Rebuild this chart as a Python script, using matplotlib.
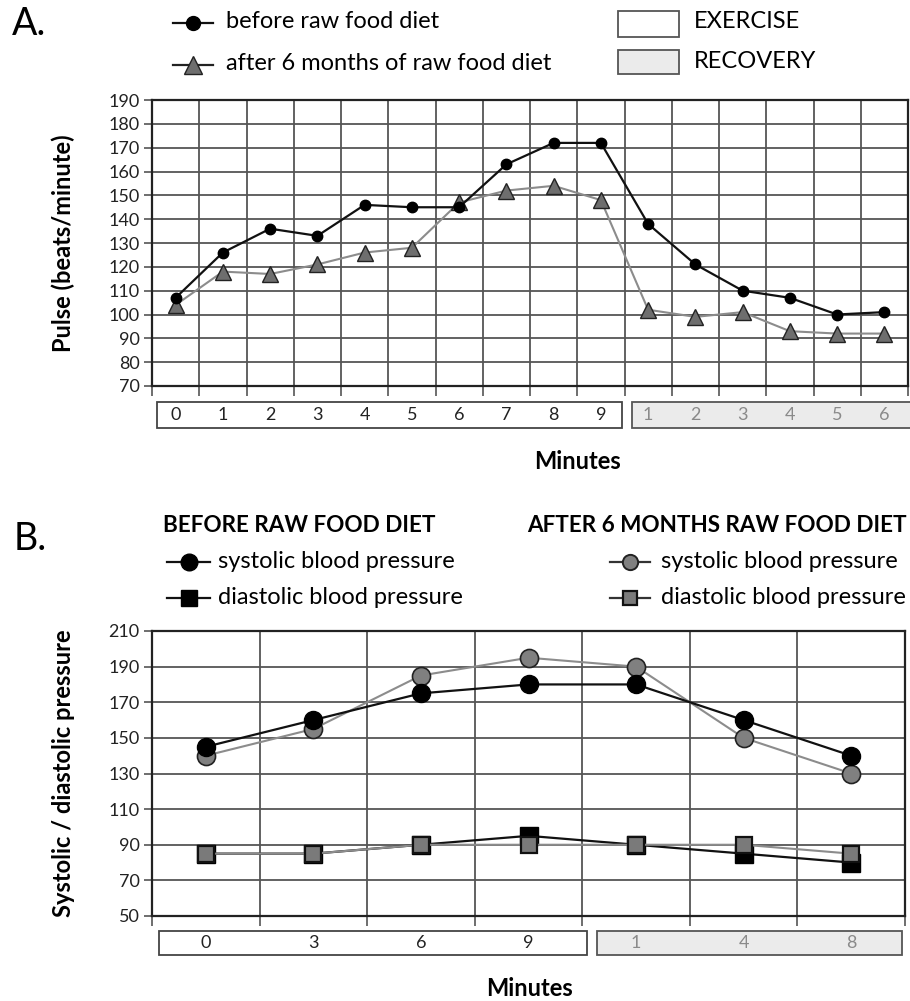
import numpy as np
import matplotlib.pyplot as plt
from matplotlib.lines import Line2D
from matplotlib.patches import Rectangle
import matplotlib.transforms as mtransforms

plt.rcParams['font.family'] = ['Lato', 'DejaVu Sans']

# ---------- data ----------
# panel A: pulse
a_labels = ['0', '1', '2', '3', '4', '5', '6', '7', '8', '9', '1', '2', '3', '4', '5', '6']
a_n_exercise = 10
pulse_before = [107, 126, 136, 133, 146, 145, 145, 163, 172, 172, 138, 121, 110, 107, 100, 101]
pulse_after = [104, 118, 117, 121, 126, 128, 147, 152, 154, 148, 102, 99, 101, 93, 92, 92]

# panel B: blood pressure
b_labels = ['0', '3', '6', '9', '1', '4', '8']
b_n_exercise = 4
sys_before = [145, 160, 175, 180, 180, 160, 140]
sys_after = [140, 155, 185, 195, 190, 150, 130]
dia_before = [85, 85, 90, 95, 90, 85, 80]
dia_after = [85, 85, 90, 90, 90, 90, 85]

W, H = 910, 1001
fig = plt.figure(figsize=(W / 100, H / 100), dpi=100)


def fx(px):
    return px / W


def fy(py):
    return 1 - py / H


GRID = '#555555'
LAB = 17     # bold axis labels
LEG = 17     # legend text
TICK = 13


def style_axes(ax, n, ymin, ymax, ystep):
    ax.set_xlim(-0.5, n - 0.5)
    ax.set_ylim(ymin, ymax)
    ax.set_xticks(np.arange(-0.5, n, 1.0))
    ax.set_xticklabels([])
    ax.set_yticks(np.arange(ymin, ymax + 1, ystep))
    ax.grid(True, color=GRID, lw=1.3)
    ax.set_axisbelow(True)
    ax.tick_params(axis='x', length=7, width=1.2, color=GRID)
    ax.tick_params(axis='y', length=6, width=1.2, color=GRID, labelsize=TICK, pad=3,
                   labelcolor='#222222')
    for s in ax.spines.values():
        s.set_color('#222222')
        s.set_linewidth(1.6)


def category_boxes(ax, labels, n_ex, ex_span, rec_span, ybot, ytop):
    trans = mtransforms.blended_transform_factory(ax.transData, ax.transAxes)
    ax.add_patch(Rectangle((ex_span[0], ybot), ex_span[1] - ex_span[0], ytop - ybot,
                           transform=trans, facecolor='white', edgecolor='#444444',
                           lw=1.3, clip_on=False))
    ax.add_patch(Rectangle((rec_span[0], ybot), rec_span[1] - rec_span[0], ytop - ybot,
                           transform=trans, facecolor='#ebebeb', edgecolor='#555555',
                           lw=1.3, clip_on=False))
    for i, lab in enumerate(labels):
        ax.text(i, (ybot + ytop) / 2, lab, transform=trans, ha='center', va='center',
                fontsize=TICK, color='#222222' if i < n_ex else '#8a8a8a')


# ---------- panel A ----------
axA = fig.add_axes([fx(152), fy(386), fx(756), 286 / H])
style_axes(axA, len(a_labels), 70, 190, 10)
xa = np.arange(len(a_labels))
axA.plot(xa, pulse_after, '-', color='#8c8c8c', lw=1.5, marker='^', ms=11.5,
         mfc='#6e6e6e', mec='#222222', mew=1.0, zorder=3)
axA.plot(xa, pulse_before, '-', color='#111111', lw=1.6, marker='o', ms=7.5,
         mfc='black', mec='black', zorder=4)
axA.set_ylabel('Pulse (beats/minute)', fontsize=LAB, fontweight='bold')
axA.yaxis.set_label_coords(-0.102, 0.5)
category_boxes(axA, a_labels, a_n_exercise, (-0.39, 9.45), (9.66, 16.3), -0.147, -0.056)
fig.text(fx(577), fy(461), 'Minutes', ha='center', va='center', fontsize=LAB, fontweight='bold')

# ---------- panel B ----------
axB = fig.add_axes([fx(152), fy(916), fx(753), 285 / H])
style_axes(axB, len(b_labels), 50, 210, 20)
xb = np.arange(len(b_labels))
axB.plot(xb, sys_after, '-', color='#8c8c8c', lw=1.5, marker='o', ms=13,
         mfc='#808080', mec='#222222', mew=1.2, zorder=3)
axB.plot(xb, sys_before, '-', color='#111111', lw=1.6, marker='o', ms=13,
         mfc='black', mec='black', zorder=4)
axB.plot(xb, dia_before, '-', color='#111111', lw=1.6, marker='s', ms=12.5,
         mfc='black', mec='black', zorder=3)
axB.plot(xb, dia_after, '-', color='#8c8c8c', lw=1.5, marker='s', ms=11.5,
         mfc='#7a7a7a', mec='#111111', mew=1.6, zorder=4)
axB.set_ylabel('Systolic / diastolic pressure', fontsize=LAB, fontweight='bold')
axB.yaxis.set_label_coords(-0.102, 0.5)
category_boxes(axB, b_labels, b_n_exercise, (-0.435, 3.545), (3.637, 6.472), -0.137, -0.053)
fig.text(fx(530), fy(988), 'Minutes', ha='center', va='center', fontsize=LAB, fontweight='bold')


# ---------- legends (drawn in figure pixels) ----------
def leg_line(x0, x1, y, color, marker, ms, mfc, mec, mew=1.0):
    fig.add_artist(Line2D([fx(x0), fx(x1)], [fy(y), fy(y)], color=color, lw=1.6,
                          transform=fig.transFigure))
    fig.add_artist(Line2D([fx((x0 + x1) / 2)], [fy(y)], marker=marker, ms=ms, mfc=mfc,
                          mec=mec, mew=mew, ls='none', transform=fig.transFigure))


fig.text(fx(12), fy(24), 'A.', fontsize=27, va='center', ha='left')
leg_line(173, 213, 23, '#111111', 'o', 10, 'black', 'black')
fig.text(fx(226), fy(22), 'before raw food diet', fontsize=LEG, va='center')
leg_line(173, 213, 65, '#222222', '^', 13, '#6e6e6e', '#222222')
fig.text(fx(226), fy(63), 'after 6 months of raw food diet', fontsize=LEG, va='center')
fig.add_artist(Rectangle((fx(618), fy(37)), fx(61), 26 / H, transform=fig.transFigure,
                         facecolor='white', edgecolor='#555555', lw=1.3))
fig.text(fx(694), fy(22), 'EXERCISE', fontsize=LEG, va='center')
fig.add_artist(Rectangle((fx(618), fy(74)), fx(61), 24 / H, transform=fig.transFigure,
                         facecolor='#ebebeb', edgecolor='#555555', lw=1.3))
fig.text(fx(694), fy(62), 'RECOVERY', fontsize=LEG, va='center')

fig.text(fx(14), fy(539), 'B.', fontsize=27, va='center', ha='left')
fig.text(fx(163), fy(525), 'BEFORE RAW FOOD DIET', fontsize=16.2, fontweight='bold', va='center')
fig.text(fx(527), fy(525), 'AFTER 6 MONTHS RAW FOOD DIET', fontsize=16.2, fontweight='bold',
         va='center')
leg_line(167, 210, 562, '#111111', 'o', 12, 'black', 'black')
fig.text(fx(218), fy(561), 'systolic blood pressure', fontsize=LEG, va='center')
leg_line(167, 210, 598, '#111111', 's', 11, 'black', 'black')
fig.text(fx(218), fy(597), 'diastolic blood pressure', fontsize=LEG, va='center')
leg_line(610, 650, 562, '#333333', 'o', 11, '#808080', '#222222', 1.4)
fig.text(fx(661), fy(561), 'systolic blood pressure', fontsize=LEG, va='center')
leg_line(610, 650, 598, '#333333', 's', 10, '#7a7a7a', '#111111', 1.6)
fig.text(fx(661), fy(597), 'diastolic blood pressure', fontsize=LEG, va='center')

fig.savefig('out.png', dpi=100)
